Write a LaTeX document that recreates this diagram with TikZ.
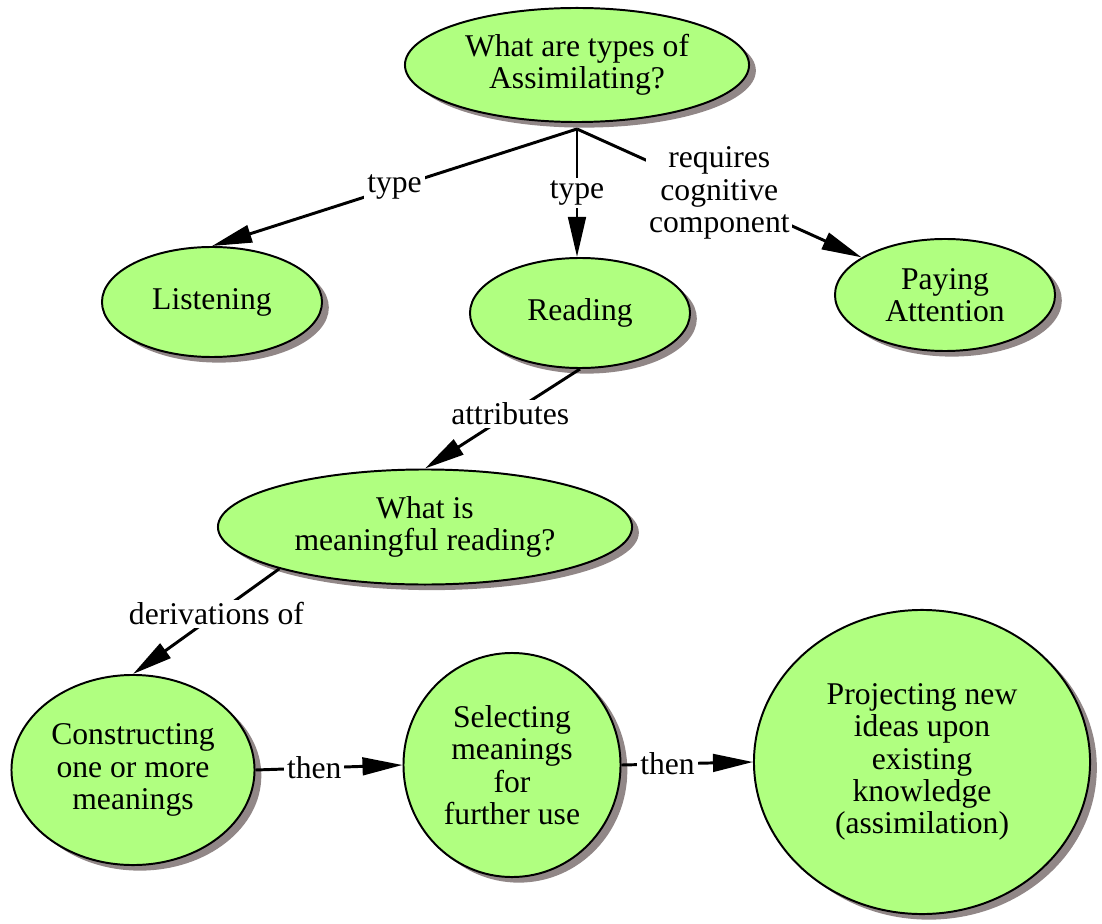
\documentclass[tikz,border=0pt]{standalone}
\usepackage{fontspec}
\setmainfont{Liberation Serif}
\usetikzlibrary{shapes.geometric,shadows,arrows.meta}

\definecolor{conceptgreen}{RGB}{176,255,128}
\definecolor{shadowgray}{RGB}{145,135,135}

\begin{document}
\begin{tikzpicture}[x=0.025cm,y=-0.025cm,font=\fontsize{22.5}{23}\selectfont,
  concept/.style={ellipse,draw=black,line width=1.4pt,fill=conceptgreen,inner sep=0pt,align=center,
    drop shadow={shadow xshift=0.17cm,shadow yshift=-0.14cm,fill=shadowgray,opacity=1}},
  link/.style={line width=2.1pt,-{Triangle[length=1.0cm,width=0.44cm]}},
  linklabel/.style={fill=white,inner sep=2pt,align=center}]
\useasboundingbox (0,0) rectangle (1102,924);

% concepts
\node[concept,minimum width=8.6cm,minimum height=2.85cm] (types) at (577,65) {What are types of\\Assimilating?};
\node[concept,minimum width=5.5cm,minimum height=2.75cm] (listen) at (212,302) {Listening};
\node[concept,minimum width=5.5cm,minimum height=2.75cm] (read) at (580,313) {Reading};
\node[concept,minimum width=5.5cm,minimum height=2.8cm] (attend) at (945,295) {Paying\\Attention};
\node[concept,minimum width=10.35cm,minimum height=2.875cm] (meaning) at (425,527) {What is\\meaningful reading?};
\node[concept,minimum width=6.075cm,minimum height=4.75cm] (construct) at (133,770) {Constructing\\one or more\\meanings};
\node[concept,minimum width=5.425cm,minimum height=5.6cm] (select) at (512,765) {Selecting\\meanings\\for\\further use};
\node[concept,minimum width=8.4cm,minimum height=7.6cm] (project) at (922,762) {Projecting new\\ideas upon\\existing\\knowledge\\(assimilation)};

% links
\coordinate (fork) at (577,129);
\draw[link] (fork) -- node[linklabel] {type} (listen.north);
\draw[link] (fork) -- node[linklabel] {type} (read.north -| fork);
\draw[link] (fork) -- node[linklabel] {requires\\cognitive\\component} (attend);
\draw[link] (read.south) -- node[linklabel,pos=0.45] {attributes} (meaning.north);
\draw[link] (meaning.196) -- node[linklabel,pos=0.43] {derivations of} (construct.north);
\draw[link] (construct.east) -- node[linklabel,pos=0.4] {then} (select.west);
\draw[link] (select.east) -- node[linklabel,pos=0.35] {then} (project.west);

\end{tikzpicture}
\end{document}
